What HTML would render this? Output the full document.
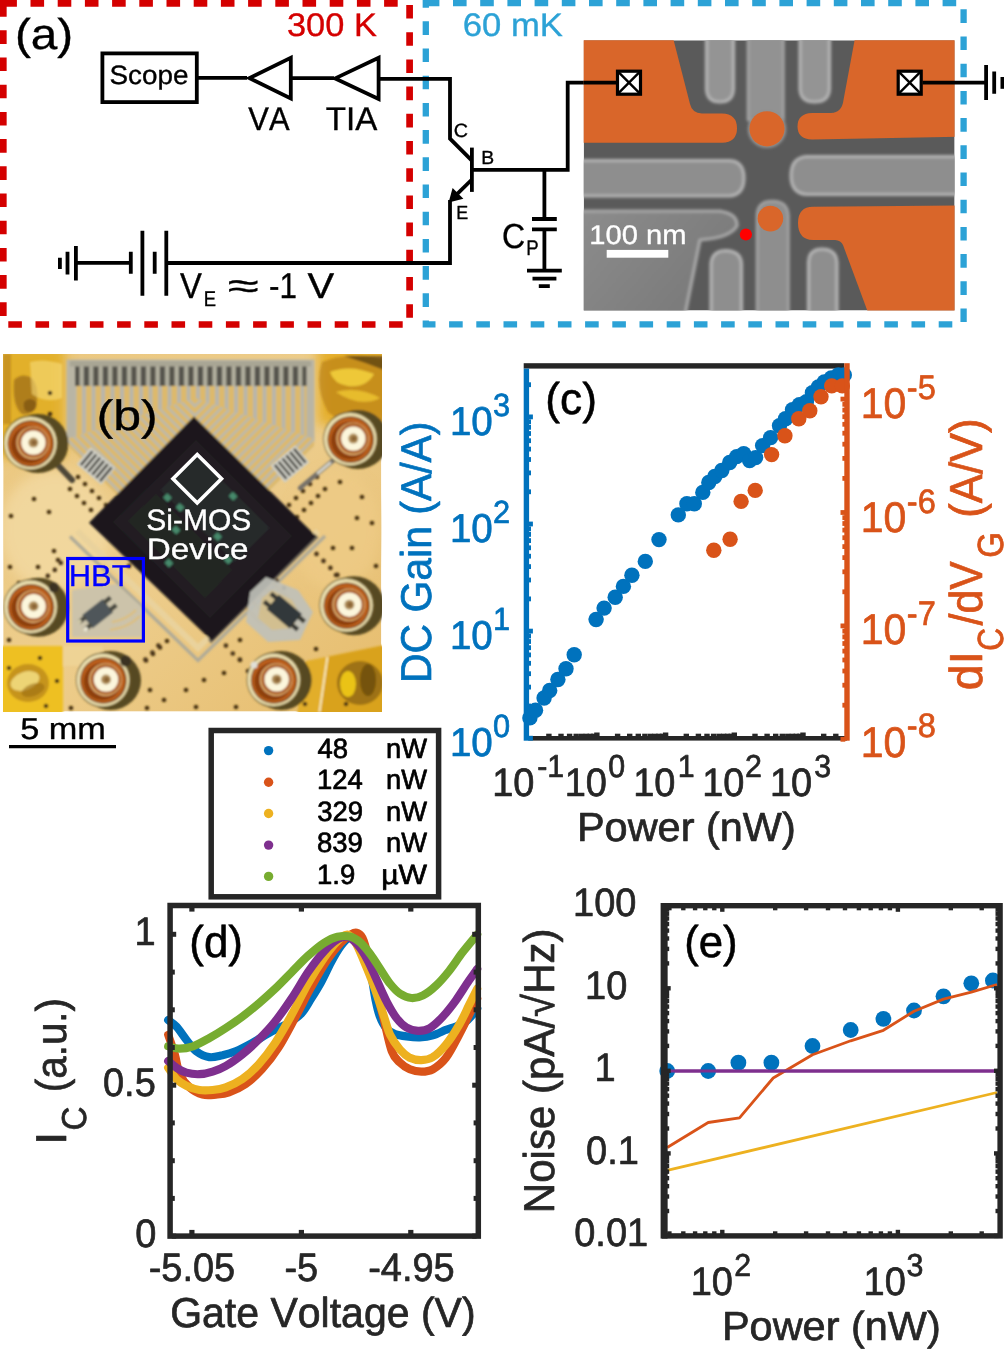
<!DOCTYPE html>
<html><head><meta charset="utf-8"><title>Figure</title>
<style>html,body{margin:0;padding:0;background:#fff}svg{display:block;will-change:transform}text{text-rendering:geometricPrecision;font-family:"Liberation Sans",sans-serif;font-kerning:none;white-space:pre}</style></head><body>
<svg width="1004" height="1349" viewBox="0 0 1004 1349">
<rect width="1004" height="1349" fill="#fff"/>
<!-- panel a -->
<path d="M3.3,3.3 H409.6 V324.5 H3.3 Z" fill="none" stroke="#D40000" stroke-width="6.7" stroke-dasharray="13.6 13.6"/>
<path d="M425.8,3.1 H963.6 V324.4 H425.8 Z" fill="none" stroke="#2CA2D6" stroke-width="6.3" stroke-dasharray="13.6 13.6"/>
<text transform="translate(14.94,49.00) scale(1.1016,1)" font-size="43.31" fill="#000"  stroke="#000" stroke-width="0.35" stroke-linejoin="round">(a)</text>
<text transform="translate(286.99,36.30) scale(1.0565,1)" font-size="32.56" fill="#D40000"  stroke="#D40000" stroke-width="0.35" stroke-linejoin="round">300 K</text>
<text transform="translate(462.84,36.30) scale(1.0643,1)" font-size="32.56" fill="#2CA2D6"  stroke="#2CA2D6" stroke-width="0.35" stroke-linejoin="round">60 mK</text>
<rect x="102.4" y="53.4" width="94.4" height="48.7" stroke="#000" stroke-width="3.8" fill="none"/>
<text transform="translate(109.53,84.20) scale(1.0533,1)" font-size="26.45" fill="#000"  stroke="#000" stroke-width="0.35" stroke-linejoin="round">Scope</text>
<path d="M197,77.9 H247 M291,78.2 H334 M379,78.8 H450 V138.7 L471.9,160.6" stroke="#000" stroke-width="3.8" fill="none"/>
<path d="M249.3,78.1 L290.8,57.8 V98.4 Z" stroke="#000" stroke-width="3.8" fill="none" stroke-linejoin="miter"/>
<path d="M335.2,78.4 L378.6,57.8 V98.9 Z" stroke="#000" stroke-width="3.8" fill="none" stroke-linejoin="miter"/>
<text transform="translate(248.36,130.30) scale(0.9424,1)" font-size="32.85" fill="#000"  stroke="#000" stroke-width="0.35" stroke-linejoin="round">VA</text>
<text transform="translate(325.76,130.30) scale(1.0079,1)" font-size="32.85" fill="#000"  stroke="#000" stroke-width="0.35" stroke-linejoin="round">TIA</text>
<path d="M471.9,147.6 V191.9" stroke="#000" stroke-width="3.8" fill="none"/>
<path d="M471.9,169.8 H567.7 V82.7 H617" stroke="#000" stroke-width="3.8" fill="none"/>
<path d="M471.9,179.5 L456,195.2" stroke="#000" stroke-width="3.8" fill="none"/>
<path d="M448.6,202.6 L452.6,188.0 L463.4,198.8 Z" fill="#000"/>
<path d="M450,200 V263 H166.3" stroke="#000" stroke-width="3.8" fill="none"/>
<text transform="translate(453.80,137.30) scale(1.0287,1)" font-size="19.19" fill="#000"  stroke="#000" stroke-width="0.35" stroke-linejoin="round">C</text>
<text transform="translate(481.31,163.60) scale(1.0242,1)" font-size="18.90" fill="#000"  stroke="#000" stroke-width="0.35" stroke-linejoin="round">B</text>
<text transform="translate(456.13,218.80) scale(0.9471,1)" font-size="18.90" fill="#000"  stroke="#000" stroke-width="0.35" stroke-linejoin="round">E</text>
<path d="M544.4,169.8 V219 M532,219 H556.8 M532,229.3 H556.8 M544.4,229.3 V270.6 M527,270.6 H561.8 M532.5,278.7 H556.4 M538.8,286.1 H549.8" stroke="#000" stroke-width="3.8" fill="none"/>
<text transform="translate(501.97,248.20) scale(0.9189,1)" font-size="34.88" fill="#000"  stroke="#000" stroke-width="0.35" stroke-linejoin="round">C</text>
<text transform="translate(526.37,254.80) scale(0.8826,1)" font-size="21.08" fill="#000"  stroke="#000" stroke-width="0.35" stroke-linejoin="round">P</text>
<path d="M59.9,257.8 V269 M67.5,251.8 V274.5 M75.9,245.9 V280.5 M75.9,262.8 H130.8 M130.8,251.8 V273.7 M142.4,230.7 V295.7 M154.7,251.8 V273.7 M166.3,230.7 V295.7" stroke="#000" stroke-width="3.8" fill="none"/>
<text transform="translate(180.06,298.40) scale(0.9141,1)" font-size="35.90" fill="#000"  stroke="#000" stroke-width="0.35" stroke-linejoin="round">V</text>
<text transform="translate(203.79,305.60) scale(0.8635,1)" font-size="21.37" fill="#000"  stroke="#000" stroke-width="0.35" stroke-linejoin="round">E</text>
<text transform="translate(227.66,298.40) scale(1.5727,1)" font-size="35.90" fill="#000"  stroke="#000" stroke-width="0.35" stroke-linejoin="round">≈</text>
<text transform="translate(269.10,298.40) scale(0.8749,1)" font-size="35.90" fill="#000"  stroke="#000" stroke-width="0.35" stroke-linejoin="round">-1</text>
<text transform="translate(307.52,298.40) scale(1.1130,1)" font-size="35.90" fill="#000"  stroke="#000" stroke-width="0.35" stroke-linejoin="round">V</text>
<!-- sem -->
<defs><clipPath id="semclip"><rect x="583.7" y="40.3" width="370.9" height="270.2"/></clipPath><filter id="b1" x="-10%" y="-10%" width="120%" height="120%"><feGaussianBlur stdDeviation="1.6"/></filter><filter id="b05" x="-10%" y="-10%" width="120%" height="120%"><feGaussianBlur stdDeviation="0.7"/></filter><filter id="b3" x="-10%" y="-10%" width="120%" height="120%"><feGaussianBlur stdDeviation="3"/></filter><linearGradient id="llg" x1="0" y1="0" x2="1" y2="0.6"><stop offset="0" stop-color="#8d8d8d"/><stop offset="1" stop-color="#787878"/></linearGradient></defs>
<g clip-path="url(#semclip)">
<rect x="583.7" y="40.3" width="370.9" height="270.2" fill="#5a5a5a"/>
<g filter="url(#b1)"><path d="M570,211 H720 Q738,214 737,226 Q730,238 700,240 L682,330 H570 Z" fill="url(#llg)" stroke="#a8a8a8" stroke-width="3.2" stroke-linejoin="round"/><path d="M570,160.5 H730 Q744,161.5 744,178 Q744,194.5 730,196 H570 Z" fill="#8e8e8e" stroke="#b4b4b4" stroke-width="3.2" stroke-linejoin="round"/><path d="M970,156.5 H806 Q791,158 791,175.5 Q791,193 806,194.5 H970 Z" fill="#8e8e8e" stroke="#b4b4b4" stroke-width="3.2" stroke-linejoin="round"/><path d="M706.5,20 V89 Q707,102 720,102 Q733,102 733.5,89 V20 Z" fill="#949494" stroke="#b4b4b4" stroke-width="3.2" stroke-linejoin="round"/><path d="M748,20 V120 H783.5 V20 Z" fill="#929292" stroke="#a6a6a6" stroke-width="2.5" stroke-linejoin="round"/><circle cx="767" cy="128.8" r="19.3" fill="#909090"/><path d="M800,20 V89 Q800.5,102 814.5,102 Q829,102 829.5,89 V20 Z" fill="#949494" stroke="#b4b4b4" stroke-width="3.2" stroke-linejoin="round"/><path d="M711,330 V264 Q712,250.5 726,250.5 Q741,251 741.5,264 V330 Z" fill="#8e8e8e" stroke="#b4b4b4" stroke-width="3.2" stroke-linejoin="round"/><path d="M757,330 V216 Q757,201 772,201 Q788,201 788.5,216 V330 Z" fill="#8e8e8e" stroke="#a6a6a6" stroke-width="2.5" stroke-linejoin="round"/><path d="M808.5,330 V262 Q809,249 822,249 Q836,249 837,262 V330 Z" fill="#8e8e8e" stroke="#b4b4b4" stroke-width="3.2" stroke-linejoin="round"/></g>
<g filter="url(#b05)"><path d="M570,30 H671 L690,104 Q692,113 702,113.5 H722 Q737,114 737,128.3 Q737,142.4 722,142.8 H570 Z" fill="#D96629"/><path d="M970,30 H856.5 L843.5,100 Q842,112.5 831,113 H812 Q797.5,113.5 797.5,126.5 Q797.5,139 812,139.5 L970,136.5 Z" fill="#D96629"/><path d="M970,205.5 L813,206.8 Q798,207 798,223 Q798,239.5 813,240 H835 Q841,240.5 843,245 L874.5,330 H970 Z" fill="#D96629"/><circle cx="767" cy="128.8" r="17.6" fill="#D96629"/><circle cx="770.4" cy="218.6" r="12.8" fill="#D96629"/></g>
<circle cx="745.9" cy="234.5" r="6.1" fill="#f00"/>
<rect x="606.7" y="249.9" width="61.6" height="7.8" fill="#fff"/>
<text transform="translate(589.28,243.90) scale(1.0772,1)" font-size="27.04" fill="#fff"  stroke="#fff" stroke-width="0.35" stroke-linejoin="round">100 nm</text>
</g>
<rect x="617.5" y="71.2" width="23.0" height="23.0" fill="#fff" stroke="#000" stroke-width="3.2"/>
<path d="M617.5,71.2 l23,23 M640.5,71.2 l-23,23" stroke="#000" stroke-width="2.4"/>
<rect x="898.2" y="71.2" width="23.0" height="23.0" fill="#fff" stroke="#000" stroke-width="3.2"/>
<path d="M898.2,71.2 l23,23 M921.2,71.2 l-23,23" stroke="#000" stroke-width="2.4"/>
<path d="M583.7,82.7 H617 M922.5,82.7 H986.1 M986.1,65 V100 M994.2,71.4 V93.8" stroke="#000" stroke-width="3.8" fill="none"/>
<path d="M1002.5,77 V88.8" stroke="#000" stroke-width="4" fill="none"/>
<!-- photo b -->
<defs><clipPath id="phclip"><rect x="3.2" y="354.0" width="378.1" height="357.6"/></clipPath><clipPath id="fanL"><path d="M67,439 L195,398 V419 L118,496 L67,445 Z"/></clipPath><clipPath id="fanR"><path d="M314,439 L195,398 V419 L268,492 L314,446 Z"/></clipPath><filter id="pb" x="-5%" y="-5%" width="110%" height="110%"><feGaussianBlur stdDeviation="0.9"/></filter><filter id="pb6" x="-20%" y="-20%" width="140%" height="140%"><feGaussianBlur stdDeviation="6"/></filter><pattern id="stripes" x="72.6" y="0" width="9.5" height="10" patternUnits="userSpaceOnUse"><rect width="9.5" height="10" fill="#DDB96C"/><rect x="0" width="3.8" height="10" fill="#B7B6AC"/></pattern><pattern id="dstr" x="0" y="0" width="6.7" height="10" patternUnits="userSpaceOnUse"><rect width="6.7" height="10" fill="#DDB96C"/><rect x="0" width="2.9" height="10" fill="#BDB9A8"/></pattern><pattern id="pads" x="72.6" y="0" width="9.5" height="10" patternUnits="userSpaceOnUse"><rect width="9.5" height="10" fill="#B4B1A0"/><rect x="1.6" width="5.4" height="10" fill="#54534c"/></pattern><linearGradient id="bgg" x1="0" y1="0" x2="1" y2="1"><stop offset="0" stop-color="#EBC77E"/><stop offset="0.5" stop-color="#EDCD8C"/><stop offset="1" stop-color="#E6BC6C"/></linearGradient></defs>
<g clip-path="url(#phclip)">
<rect x="3.2" y="354.0" width="378.1" height="357.6" fill="url(#bgg)"/>
<g filter="url(#pb6)"><ellipse cx="55" cy="530" rx="55" ry="60" fill="#F3DAA2" opacity="0.8"/><ellipse cx="335" cy="530" rx="45" ry="60" fill="#EDCA86" opacity="0.8"/><rect x="-5" y="345" width="70" height="112" fill="#E2B02A"/><rect x="318" y="345" width="80" height="80" fill="#E4AE2A"/></g>
<g filter="url(#pb)"><rect x="0" y="646" width="63" height="70" fill="#EEC024"/><path d="M63,646 h40 v20 h-40z" fill="#EFD9A0" opacity="0.5"/><path d="M306,661 L390,644 V720 H296 Z" fill="#E2AE2A"/><path d="M327,657 L390,644 V720 H319 Z" fill="#D9A21A"/><path d="M14,380 q8,-8 18,-2 q8,10 4,28 q-4,10 -14,8 q-10,-8 -8,-34z" fill="#8E5E18" opacity="0.6"/><path d="M30,362 q14,-4 32,2 v34 q-16,6 -30,-4z" fill="#F6DC7A" opacity="0.6"/><path d="M3,354 h8 v70 h-8z" fill="#A87414" opacity="0.45"/><path d="M24,402 q6,-6 12,0 q2,8 -6,10 q-8,0 -6,-10z" fill="#6a4412" opacity="0.55"/><path d="M322,362 q30,-12 62,-2 v60 q-30,14 -56,-8 q-14,-26 -6,-50z" fill="#B47A18" opacity="0.6"/><path d="M330,372 q20,-8 44,2 q-8,14 -26,12 q-14,-2 -18,-14z" fill="#F5D23C" opacity="0.85"/><path d="M344,356 h40 v14 q-20,-8 -40,-14z" fill="#3a2a10" opacity="0.6"/><path d="M336,392 q22,-6 44,6 q-20,10 -44,-6z" fill="#F0C832" opacity="0.8"/><ellipse cx="28" cy="683" rx="21" ry="19" fill="#B8861C" opacity="0.75"/><ellipse cx="25" cy="681" rx="15" ry="9" fill="#F6E48A" opacity="0.8" transform="rotate(-20 25 681)"/><ellipse cx="33" cy="690" rx="12" ry="6" fill="#9a6c14" opacity="0.6" transform="rotate(-20 33 690)"/><ellipse cx="360" cy="683" rx="23" ry="22" fill="#8a6210" opacity="0.75"/><ellipse cx="348" cy="684" rx="8" ry="13" fill="#F2CC14" opacity="0.9"/><ellipse cx="368" cy="680" rx="8" ry="16" fill="#5a3e0c" opacity="0.6"/><path d="M327.5,657 L319.5,712" stroke="#F8E8B8" stroke-width="2"/><path d="M66.5,359.5 H314.5 V442 L262,495 L195,419 L124,495 L66.5,445 Z" fill="#B9B5A4"/><path d="M75,385 H306.5 V440 L195,401 L75,440 Z" fill="url(#stripes)"/><g clip-path="url(#fanL)"><rect x="-200" y="-200" width="900" height="900" fill="url(#dstr)" transform="rotate(-45 118 496)"/></g><g clip-path="url(#fanR)"><rect x="-200" y="-200" width="900" height="900" fill="url(#dstr)" transform="rotate(45 268 492)"/></g><rect x="75" y="366" width="231.5" height="20" fill="url(#pads)"/><rect x="70" y="361" width="241" height="5.5" fill="#A9A694"/><path d="M70,536.5 L198,660.5 L325,536" fill="none" stroke="#AFAA98" stroke-width="3.2"/><path d="M77,531 L198,648 L318,531" fill="none" stroke="#E9D29C" stroke-width="6"/><path d="M236.0,598.0 l26,26" stroke="#CDA555" stroke-width="2"/><path d="M242.5,591.5 l26,26" stroke="#CDA555" stroke-width="2"/><path d="M249.0,585.0 l26,26" stroke="#CDA555" stroke-width="2"/><path d="M255.5,578.5 l26,26" stroke="#CDA555" stroke-width="2"/><path d="M262.0,572.0 l26,26" stroke="#CDA555" stroke-width="2"/><circle cx="70.0" cy="489.0" r="2.3" fill="#4a3414"/><circle cx="78.0" cy="477.0" r="2.3" fill="#4a3414"/><circle cx="325.0" cy="489.0" r="2.3" fill="#4a3414"/><circle cx="317.0" cy="477.0" r="2.3" fill="#4a3414"/><circle cx="77.0" cy="496.0" r="2.3" fill="#4a3414"/><circle cx="85.0" cy="484.0" r="2.3" fill="#4a3414"/><circle cx="318.0" cy="496.0" r="2.3" fill="#4a3414"/><circle cx="310.0" cy="484.0" r="2.3" fill="#4a3414"/><circle cx="84.0" cy="503.0" r="2.3" fill="#4a3414"/><circle cx="92.0" cy="491.0" r="2.3" fill="#4a3414"/><circle cx="311.0" cy="503.0" r="2.3" fill="#4a3414"/><circle cx="303.0" cy="491.0" r="2.3" fill="#4a3414"/><circle cx="91.0" cy="510.0" r="2.3" fill="#4a3414"/><circle cx="99.0" cy="498.0" r="2.3" fill="#4a3414"/><circle cx="304.0" cy="510.0" r="2.3" fill="#4a3414"/><circle cx="296.0" cy="498.0" r="2.3" fill="#4a3414"/><circle cx="98.0" cy="517.0" r="2.3" fill="#4a3414"/><circle cx="106.0" cy="505.0" r="2.3" fill="#4a3414"/><circle cx="297.0" cy="517.0" r="2.3" fill="#4a3414"/><circle cx="289.0" cy="505.0" r="2.3" fill="#4a3414"/><circle cx="105.0" cy="524.0" r="2.3" fill="#4a3414"/><circle cx="113.0" cy="512.0" r="2.3" fill="#4a3414"/><circle cx="290.0" cy="524.0" r="2.3" fill="#4a3414"/><circle cx="282.0" cy="512.0" r="2.3" fill="#4a3414"/><circle cx="112.0" cy="531.0" r="2.3" fill="#4a3414"/><circle cx="120.0" cy="519.0" r="2.3" fill="#4a3414"/><circle cx="283.0" cy="531.0" r="2.3" fill="#4a3414"/><circle cx="275.0" cy="519.0" r="2.3" fill="#4a3414"/><circle cx="262.0" cy="566.0" r="2.3" fill="#4a3414"/><circle cx="151.0" cy="544.0" r="2.3" fill="#4a3414"/><circle cx="167.0" cy="641.0" r="2.3" fill="#4a3414"/><circle cx="269.3" cy="573.3" r="2.3" fill="#4a3414"/><circle cx="143.7" cy="551.3" r="2.3" fill="#4a3414"/><circle cx="160.0" cy="647.5" r="2.3" fill="#4a3414"/><circle cx="276.6" cy="580.6" r="2.3" fill="#4a3414"/><circle cx="136.4" cy="558.6" r="2.3" fill="#4a3414"/><circle cx="153.0" cy="654.0" r="2.3" fill="#4a3414"/><circle cx="283.9" cy="587.9" r="2.3" fill="#4a3414"/><circle cx="129.1" cy="565.9" r="2.3" fill="#4a3414"/><circle cx="146.0" cy="660.5" r="2.3" fill="#4a3414"/><circle cx="34.0" cy="499.0" r="2.3" fill="#4a3414"/><circle cx="49.0" cy="512.0" r="2.3" fill="#4a3414"/><circle cx="11.0" cy="516.0" r="2.3" fill="#4a3414"/><circle cx="54.0" cy="551.0" r="2.3" fill="#4a3414"/><circle cx="38.0" cy="567.0" r="2.3" fill="#4a3414"/><circle cx="10.0" cy="567.0" r="2.3" fill="#4a3414"/><circle cx="38.0" cy="591.0" r="2.3" fill="#4a3414"/><circle cx="9.0" cy="640.0" r="2.3" fill="#4a3414"/><circle cx="58.0" cy="560.0" r="2.3" fill="#4a3414"/><circle cx="48.0" cy="612.0" r="2.3" fill="#4a3414"/><circle cx="40.0" cy="658.0" r="2.3" fill="#4a3414"/><circle cx="57.0" cy="681.0" r="2.3" fill="#4a3414"/><circle cx="9.0" cy="668.0" r="2.3" fill="#4a3414"/><circle cx="46.0" cy="706.0" r="2.3" fill="#4a3414"/><circle cx="71.0" cy="708.0" r="2.3" fill="#4a3414"/><circle cx="340.0" cy="482.0" r="2.3" fill="#4a3414"/><circle cx="362.0" cy="497.0" r="2.3" fill="#4a3414"/><circle cx="372.0" cy="523.0" r="2.3" fill="#4a3414"/><circle cx="357.0" cy="518.0" r="2.3" fill="#4a3414"/><circle cx="333.0" cy="548.0" r="2.3" fill="#4a3414"/><circle cx="352.0" cy="548.0" r="2.3" fill="#4a3414"/><circle cx="376.0" cy="566.0" r="2.3" fill="#4a3414"/><circle cx="336.0" cy="575.0" r="2.3" fill="#4a3414"/><circle cx="372.0" cy="596.0" r="2.3" fill="#4a3414"/><circle cx="240.0" cy="660.0" r="2.3" fill="#4a3414"/><circle cx="204.0" cy="680.0" r="2.3" fill="#4a3414"/><circle cx="224.0" cy="673.0" r="2.3" fill="#4a3414"/><circle cx="196.0" cy="707.0" r="2.3" fill="#4a3414"/><circle cx="164.0" cy="700.0" r="2.3" fill="#4a3414"/><circle cx="147.0" cy="708.0" r="2.3" fill="#4a3414"/><circle cx="236.0" cy="707.0" r="2.3" fill="#4a3414"/><circle cx="316.0" cy="649.0" r="2.3" fill="#4a3414"/><circle cx="305.0" cy="704.0" r="2.3" fill="#4a3414"/><circle cx="346.0" cy="704.0" r="2.3" fill="#4a3414"/><circle cx="186.0" cy="690.0" r="2.3" fill="#4a3414"/><circle cx="150.0" cy="690.0" r="2.3" fill="#4a3414"/><circle cx="240.0" cy="640.0" r="2.3" fill="#4a3414"/><circle cx="50.0" cy="393.0" r="2.3" fill="#4a3414"/><circle cx="50.0" cy="414.0" r="2.3" fill="#4a3414"/><circle cx="248.0" cy="671.0" r="2.3" fill="#4a3414"/><circle cx="19.0" cy="583.0" r="2.3" fill="#4a3414"/><circle cx="13.0" cy="594.0" r="2.3" fill="#4a3414"/><circle cx="225.9" cy="645.6" r="2.3" fill="#4a3414"/><circle cx="232.8" cy="653.5" r="2.3" fill="#4a3414"/><circle cx="239.8" cy="659.5" r="2.3" fill="#4a3414"/><circle cx="316.5" cy="553.9" r="2.3" fill="#4a3414"/><circle cx="323.5" cy="560.9" r="2.3" fill="#4a3414"/><circle cx="330.4" cy="567.9" r="2.3" fill="#4a3414"/><circle cx="337.4" cy="574.9" r="2.3" fill="#4a3414"/><circle cx="47.8" cy="575.9" r="2.3" fill="#4a3414"/><circle cx="54.8" cy="569.9" r="2.3" fill="#4a3414"/><circle cx="60.8" cy="562.9" r="2.3" fill="#4a3414"/><circle cx="145.4" cy="659.5" r="2.3" fill="#4a3414"/><circle cx="152.4" cy="652.5" r="2.3" fill="#4a3414"/><circle cx="158.4" cy="645.6" r="2.3" fill="#4a3414"/><path d="M211,643.5 L318.5,537.5 L315.2,534 L208,640 Z" fill="#7a7264"/><path d="M193.9,416.5 L316.5,536.6 L212,641 L89,522.7 Z" fill="#1b191a"/><path d="M196,440 L292,536 L210,618 L113,522 Z" fill="#201f21"/><path d="M160,490 L196,455 L270,528 L235,562 Z" fill="#272a2c" opacity="0.9"/><path d="M128,521 L156,494 L232,570 L205,598 Z" fill="#232725" opacity="0.9"/><rect x="164.20000000000002" y="494.6" width="6.5" height="6" fill="#478a6c" transform="rotate(45 167.4 497.6)"/><rect x="176.8" y="504.4" width="6.5" height="6" fill="#478a6c" transform="rotate(45 180 507.4)"/><rect x="229.8" y="493.2" width="6.5" height="6" fill="#478a6c" transform="rotate(45 233 496.2)"/><rect x="165.60000000000002" y="560" width="6.5" height="6" fill="#478a6c" transform="rotate(45 168.8 563)"/><rect x="214.4" y="533.6" width="6.5" height="6" fill="#478a6c" transform="rotate(45 217.6 536.6)"/><rect x="172.8" y="527" width="6.5" height="6" fill="#478a6c" transform="rotate(45 176 530)"/><rect x="224.8" y="557" width="6.5" height="6" fill="#478a6c" transform="rotate(45 228 560)"/><g transform="rotate(40 96 466)"><rect x="80" y="455" width="32" height="22" fill="#cfcfc6"/><rect x="82.5" y="457" width="2.6" height="18" fill="#4c4b45"/><rect x="87.5" y="457" width="2.6" height="18" fill="#4c4b45"/><rect x="92.5" y="457" width="2.6" height="18" fill="#4c4b45"/><rect x="97.5" y="457" width="2.6" height="18" fill="#4c4b45"/><rect x="102.5" y="457" width="2.6" height="18" fill="#4c4b45"/><rect x="107.5" y="457" width="2.6" height="18" fill="#4c4b45"/></g><g transform="rotate(-40 290 464)"><rect x="274" y="453" width="32" height="22" fill="#cfcfc6"/><rect x="276.5" y="455" width="2.6" height="18" fill="#4c4b45"/><rect x="281.5" y="455" width="2.6" height="18" fill="#4c4b45"/><rect x="286.5" y="455" width="2.6" height="18" fill="#4c4b45"/><rect x="291.5" y="455" width="2.6" height="18" fill="#4c4b45"/><rect x="296.5" y="455" width="2.6" height="18" fill="#4c4b45"/><rect x="301.5" y="455" width="2.6" height="18" fill="#4c4b45"/></g><path d="M55,462 L72,480" stroke="#4e4638" stroke-width="6" stroke-linecap="round"/><path d="M336,458 L300,488" stroke="#77726a" stroke-width="4.5" stroke-linecap="round"/><path d="M330,463 L318,473" stroke="#d8d8d0" stroke-width="2.5" stroke-linecap="round"/><path d="M72,590 L116,584 L142,607 L142,637 L72,637 Z" fill="#C9C2AC" opacity="0.92"/><path d="M112,622 q14,-2 24,-12 M110,630 q18,-2 30,-14" stroke="#DDBE7A" stroke-width="2" fill="none"/><g transform="rotate(-38 98 614)"><rect x="85" y="605" width="26" height="17" fill="#50565a"/><rect x="78" y="606.5" width="8" height="4.5" fill="#4a4a40"/><rect x="78" y="616" width="8" height="4.5" fill="#4a4a40"/><rect x="110" y="606.5" width="8" height="4.5" fill="#4a4a40"/><rect x="110" y="616" width="8" height="4.5" fill="#4a4a40"/><circle cx="79" cy="618.5" r="2.3" fill="#e8e4d0"/><circle cx="79" cy="608.5" r="2" fill="#cfc9a8"/></g><path d="M250,592 L266,577 L298,590 L313,612 L300,640 L268,642 L246,622 Z" fill="#BFC0B8" opacity="0.92"/><path d="M262,598 L272,590 L292,600 L300,614 L292,628 L272,630 L258,618 Z" fill="#D9BE80" opacity="0.7"/><g transform="rotate(40 284 612)"><rect x="269" y="602" width="30" height="19" fill="#33373a"/><rect x="262" y="604" width="8" height="4.5" fill="#3a3a34"/><rect x="262" y="614.5" width="8" height="4.5" fill="#3a3a34"/><rect x="298" y="604" width="8" height="4.5" fill="#3a3a34"/><rect x="298" y="614.5" width="8" height="4.5" fill="#3a3a34"/></g><ellipse cx="37.9" cy="443.6" rx="30.5" ry="29.5" fill="#574820"/><circle cx="30.9" cy="443.1" r="27.6" fill="#6a5a2c"/><circle cx="30.4" cy="443.1" r="26.2" fill="#ECE0B0"/><circle cx="30.799999999999997" cy="443.6" r="23.3" fill="#7a4a18"/><circle cx="30.599999999999998" cy="443.6" r="22" fill="#BC5F1C"/><circle cx="29.799999999999997" cy="444.6" r="18.8" fill="#8E3F0C"/><circle cx="32.8" cy="442.8" r="16.4" fill="#DCAE70"/><circle cx="33.199999999999996" cy="442.6" r="15" fill="#A85820"/><circle cx="33.4" cy="442.6" r="12.2" fill="#FCF6DC"/><circle cx="33.4" cy="442.6" r="5.0" fill="#B08E58"/><circle cx="33.9" cy="442.6" r="2.6" fill="#8a6436"/><ellipse cx="357.8" cy="439.6" rx="30.5" ry="29.5" fill="#574820"/><circle cx="350.8" cy="439.1" r="27.6" fill="#6a5a2c"/><circle cx="350.3" cy="439.1" r="26.2" fill="#ECE0B0"/><circle cx="350.7" cy="439.6" r="23.3" fill="#7a4a18"/><circle cx="350.5" cy="439.6" r="22" fill="#BC5F1C"/><circle cx="349.7" cy="440.6" r="18.8" fill="#8E3F0C"/><circle cx="352.7" cy="438.8" r="16.4" fill="#DCAE70"/><circle cx="353.1" cy="438.6" r="15" fill="#A85820"/><circle cx="353.3" cy="438.6" r="12.2" fill="#FCF6DC"/><circle cx="353.3" cy="438.6" r="5.0" fill="#B08E58"/><circle cx="353.8" cy="438.6" r="2.6" fill="#8a6436"/><ellipse cx="38.1" cy="607.3" rx="30.5" ry="29.5" fill="#574820"/><circle cx="31.1" cy="606.8" r="27.6" fill="#6a5a2c"/><circle cx="30.6" cy="606.8" r="26.2" fill="#ECE0B0"/><circle cx="31.0" cy="607.3" r="23.3" fill="#7a4a18"/><circle cx="30.8" cy="607.3" r="22" fill="#BC5F1C"/><circle cx="30.0" cy="608.3" r="18.8" fill="#8E3F0C"/><circle cx="33.0" cy="606.5" r="16.4" fill="#DCAE70"/><circle cx="33.4" cy="606.3" r="15" fill="#A85820"/><circle cx="33.6" cy="606.3" r="12.2" fill="#FCF6DC"/><circle cx="33.6" cy="606.3" r="5.0" fill="#B08E58"/><circle cx="34.1" cy="606.3" r="2.6" fill="#8a6436"/><ellipse cx="353.9" cy="605.7" rx="30.5" ry="29.5" fill="#574820"/><circle cx="346.9" cy="605.2" r="27.6" fill="#6a5a2c"/><circle cx="346.4" cy="605.2" r="26.2" fill="#ECE0B0"/><circle cx="346.79999999999995" cy="605.7" r="23.3" fill="#7a4a18"/><circle cx="346.59999999999997" cy="605.7" r="22" fill="#BC5F1C"/><circle cx="345.79999999999995" cy="606.7" r="18.8" fill="#8E3F0C"/><circle cx="348.79999999999995" cy="604.9000000000001" r="16.4" fill="#DCAE70"/><circle cx="349.2" cy="604.7" r="15" fill="#A85820"/><circle cx="349.4" cy="604.7" r="12.2" fill="#FCF6DC"/><circle cx="349.4" cy="604.7" r="5.0" fill="#B08E58"/><circle cx="349.9" cy="604.7" r="2.6" fill="#8a6436"/><ellipse cx="110.5" cy="680.5" rx="30.5" ry="29.5" fill="#574820"/><circle cx="103.5" cy="680.0" r="27.6" fill="#6a5a2c"/><circle cx="103" cy="680.0" r="26.2" fill="#ECE0B0"/><circle cx="103.4" cy="680.5" r="23.3" fill="#7a4a18"/><circle cx="103.2" cy="680.5" r="22" fill="#BC5F1C"/><circle cx="102.4" cy="681.5" r="18.8" fill="#8E3F0C"/><circle cx="105.4" cy="679.7" r="16.4" fill="#DCAE70"/><circle cx="105.8" cy="679.5" r="15" fill="#A85820"/><circle cx="106" cy="679.5" r="12.2" fill="#FCF6DC"/><circle cx="106" cy="679.5" r="5.0" fill="#B08E58"/><circle cx="106.5" cy="679.5" r="2.6" fill="#8a6436"/><ellipse cx="281.2" cy="680.4" rx="30.5" ry="29.5" fill="#574820"/><circle cx="274.2" cy="679.9" r="27.6" fill="#6a5a2c"/><circle cx="273.7" cy="679.9" r="26.2" fill="#ECE0B0"/><circle cx="274.09999999999997" cy="680.4" r="23.3" fill="#7a4a18"/><circle cx="273.9" cy="680.4" r="22" fill="#BC5F1C"/><circle cx="273.09999999999997" cy="681.4" r="18.8" fill="#8E3F0C"/><circle cx="276.09999999999997" cy="679.6" r="16.4" fill="#DCAE70"/><circle cx="276.5" cy="679.4" r="15" fill="#A85820"/><circle cx="276.7" cy="679.4" r="12.2" fill="#FCF6DC"/><circle cx="276.7" cy="679.4" r="5.0" fill="#B08E58"/><circle cx="277.2" cy="679.4" r="2.6" fill="#8a6436"/><circle cx="53.8" cy="587.6" r="5" fill="#3a3222"/><circle cx="125.5" cy="661" r="5.5" fill="#3a3222"/><circle cx="254" cy="665" r="3.5" fill="#e0e0d8"/></g>
</g>
<rect x="67.7" y="558.5" width="75.7" height="82.5" fill="none" stroke="#0000ff" stroke-width="3.2"/>
<text transform="translate(68.76,586.20) scale(1.0278,1)" font-size="30.09" fill="#0000ff"  stroke="#0000ff" stroke-width="0.35" stroke-linejoin="round">HBT</text>
<path d="M197.2,454.5 L221.5,478.8 L197.2,503 L173,478.8 Z" fill="none" stroke="#fff" stroke-width="3.7"/>
<text transform="translate(146.24,530.40) scale(1.0232,1)" font-size="29.36" fill="#fff"  stroke="#fff" stroke-width="0.35" stroke-linejoin="round">Si-MOS</text>
<text transform="translate(146.87,559.10) scale(1.1321,1)" font-size="29.36" fill="#fff"  stroke="#fff" stroke-width="0.35" stroke-linejoin="round">Device</text>
<text transform="translate(96.49,429.60) scale(1.1801,1)" font-size="42.44" fill="#000"  stroke="#000" stroke-width="0.35" stroke-linejoin="round">(b)</text>
<text transform="translate(20.13,738.60) scale(1.1398,1)" font-size="30.09" fill="#000"  stroke="#000" stroke-width="0.35" stroke-linejoin="round">5 mm</text>
<path d="M9,746.6 H116" stroke="#000" stroke-width="3.2"/>
<!-- chart c -->
<rect x="546.2" y="733.7" width="5.4" height="3.2" fill="#262626"/><rect x="558.3" y="733.7" width="5.4" height="3.2" fill="#262626"/><rect x="566.9" y="733.7" width="5.4" height="3.2" fill="#262626"/><rect x="573.5" y="733.7" width="5.4" height="3.2" fill="#262626"/><rect x="579.0" y="733.7" width="5.4" height="3.2" fill="#262626"/><rect x="583.6" y="733.7" width="5.4" height="3.2" fill="#262626"/><rect x="587.5" y="733.7" width="5.4" height="3.2" fill="#262626"/><rect x="591.1" y="733.7" width="5.4" height="3.2" fill="#262626"/><rect x="594.2" y="732.5" width="5.4" height="4.4" fill="#262626"/><rect x="614.9" y="733.7" width="5.4" height="3.2" fill="#262626"/><rect x="627.0" y="733.7" width="5.4" height="3.2" fill="#262626"/><rect x="635.6" y="733.7" width="5.4" height="3.2" fill="#262626"/><rect x="642.2" y="733.7" width="5.4" height="3.2" fill="#262626"/><rect x="647.7" y="733.7" width="5.4" height="3.2" fill="#262626"/><rect x="652.3" y="733.7" width="5.4" height="3.2" fill="#262626"/><rect x="656.2" y="733.7" width="5.4" height="3.2" fill="#262626"/><rect x="659.8" y="733.7" width="5.4" height="3.2" fill="#262626"/><rect x="662.9" y="732.5" width="5.4" height="4.4" fill="#262626"/><rect x="683.6" y="733.7" width="5.4" height="3.2" fill="#262626"/><rect x="695.7" y="733.7" width="5.4" height="3.2" fill="#262626"/><rect x="704.3" y="733.7" width="5.4" height="3.2" fill="#262626"/><rect x="710.9" y="733.7" width="5.4" height="3.2" fill="#262626"/><rect x="716.4" y="733.7" width="5.4" height="3.2" fill="#262626"/><rect x="721.0" y="733.7" width="5.4" height="3.2" fill="#262626"/><rect x="724.9" y="733.7" width="5.4" height="3.2" fill="#262626"/><rect x="728.5" y="733.7" width="5.4" height="3.2" fill="#262626"/><rect x="731.6" y="732.5" width="5.4" height="4.4" fill="#262626"/><rect x="752.3" y="733.7" width="5.4" height="3.2" fill="#262626"/><rect x="764.4" y="733.7" width="5.4" height="3.2" fill="#262626"/><rect x="773.0" y="733.7" width="5.4" height="3.2" fill="#262626"/><rect x="779.6" y="733.7" width="5.4" height="3.2" fill="#262626"/><rect x="785.1" y="733.7" width="5.4" height="3.2" fill="#262626"/><rect x="789.7" y="733.7" width="5.4" height="3.2" fill="#262626"/><rect x="793.6" y="733.7" width="5.4" height="3.2" fill="#262626"/><rect x="797.2" y="733.7" width="5.4" height="3.2" fill="#262626"/><rect x="800.3" y="732.5" width="5.4" height="4.4" fill="#262626"/><rect x="821.0" y="733.7" width="5.4" height="3.2" fill="#262626"/><rect x="833.1" y="733.7" width="5.4" height="3.2" fill="#262626"/>
<rect x="523.7" y="363.2" width="320.6" height="5.4" fill="#262626"/>
<rect x="529.1" y="736.0" width="317.9" height="4.6000000000000005" fill="#262626"/>
<rect x="528.1" y="735.8" width="4.8" height="4.8" fill="#0072BD"/><rect x="528.1" y="703.6" width="2.9" height="4.8" fill="#0072BD"/><rect x="528.1" y="684.7" width="2.9" height="4.8" fill="#0072BD"/><rect x="528.1" y="671.3" width="2.9" height="4.8" fill="#0072BD"/><rect x="528.1" y="660.9" width="2.9" height="4.8" fill="#0072BD"/><rect x="528.1" y="652.5" width="2.9" height="4.8" fill="#0072BD"/><rect x="528.1" y="645.3" width="2.9" height="4.8" fill="#0072BD"/><rect x="528.1" y="639.1" width="2.9" height="4.8" fill="#0072BD"/><rect x="528.1" y="633.6" width="2.9" height="4.8" fill="#0072BD"/><rect x="528.1" y="628.7" width="4.8" height="4.8" fill="#0072BD"/><rect x="528.1" y="596.5" width="2.9" height="4.8" fill="#0072BD"/><rect x="528.1" y="577.6" width="2.9" height="4.8" fill="#0072BD"/><rect x="528.1" y="564.2" width="2.9" height="4.8" fill="#0072BD"/><rect x="528.1" y="553.8" width="2.9" height="4.8" fill="#0072BD"/><rect x="528.1" y="545.4" width="2.9" height="4.8" fill="#0072BD"/><rect x="528.1" y="538.2" width="2.9" height="4.8" fill="#0072BD"/><rect x="528.1" y="532.0" width="2.9" height="4.8" fill="#0072BD"/><rect x="528.1" y="526.5" width="2.9" height="4.8" fill="#0072BD"/><rect x="528.1" y="521.6" width="4.8" height="4.8" fill="#0072BD"/><rect x="528.1" y="489.4" width="2.9" height="4.8" fill="#0072BD"/><rect x="528.1" y="470.5" width="2.9" height="4.8" fill="#0072BD"/><rect x="528.1" y="457.1" width="2.9" height="4.8" fill="#0072BD"/><rect x="528.1" y="446.7" width="2.9" height="4.8" fill="#0072BD"/><rect x="528.1" y="438.3" width="2.9" height="4.8" fill="#0072BD"/><rect x="528.1" y="431.1" width="2.9" height="4.8" fill="#0072BD"/><rect x="528.1" y="424.9" width="2.9" height="4.8" fill="#0072BD"/><rect x="528.1" y="419.4" width="2.9" height="4.8" fill="#0072BD"/><rect x="528.1" y="414.5" width="4.8" height="4.8" fill="#0072BD"/><rect x="528.1" y="382.3" width="2.9" height="4.8" fill="#0072BD"/>
<rect x="523.7" y="368.6" width="5.4" height="372.1" fill="#0072BD"/>
<g fill="#0072BD"><circle cx="529.9" cy="717.9" r="7.7"/><circle cx="535.5" cy="710.3" r="7.7"/><circle cx="544.1" cy="698" r="7.7"/><circle cx="549.7" cy="690.5" r="7.7"/><circle cx="557.9" cy="679.5" r="7.7"/><circle cx="566" cy="668.7" r="7.7"/><circle cx="574.2" cy="654.7" r="7.7"/><circle cx="596.1" cy="619.5" r="7.7"/><circle cx="604.1" cy="608.1" r="7.7"/><circle cx="615.2" cy="597.2" r="7.7"/><circle cx="623.4" cy="586.4" r="7.7"/><circle cx="631.9" cy="575.2" r="7.7"/><circle cx="645.3" cy="561.4" r="7.7"/><circle cx="659" cy="539.6" r="7.7"/><circle cx="678.3" cy="514.9" r="7.7"/><circle cx="686.9" cy="503.8" r="7.7"/><circle cx="694.3" cy="503.8" r="7.7"/><circle cx="702.8" cy="492.4" r="7.7"/><circle cx="708.8" cy="482.5" r="7.7"/><circle cx="714.8" cy="476.5" r="7.7"/><circle cx="721.8" cy="470.5" r="7.7"/><circle cx="729.7" cy="462.5" r="7.7"/><circle cx="736.7" cy="456.6" r="7.7"/><circle cx="743.7" cy="453.6" r="7.7"/><circle cx="749.6" cy="460.6" r="7.7"/><circle cx="755.6" cy="457.6" r="7.7"/><circle cx="762.6" cy="445.6" r="7.7"/><circle cx="770.6" cy="437.6" r="7.7"/><circle cx="779.5" cy="425.7" r="7.7"/><circle cx="785.5" cy="418.7" r="7.7"/><circle cx="792.5" cy="409.8" r="7.7"/><circle cx="799.4" cy="404.8" r="7.7"/><circle cx="806.4" cy="401.8" r="7.7"/><circle cx="812.4" cy="392.8" r="7.7"/><circle cx="818.4" cy="386.9" r="7.7"/><circle cx="824.3" cy="381.9" r="7.7"/><circle cx="831.3" cy="377.9" r="7.7"/><circle cx="838.3" cy="374.9" r="7.7"/><circle cx="844.3" cy="374.9" r="7.7"/></g>
<g fill="#D95319"><circle cx="713.8" cy="550.2" r="7.7"/><circle cx="730.1" cy="539.2" r="7.7"/><circle cx="741.1" cy="501.4" r="7.7"/><circle cx="755.2" cy="490.4" r="7.7"/><circle cx="771.6" cy="454.6" r="7.7"/><circle cx="784.9" cy="435.7" r="7.7"/><circle cx="798.8" cy="418.7" r="7.7"/><circle cx="809.8" cy="410.8" r="7.7"/><circle cx="821" cy="396.8" r="7.7"/><circle cx="831.7" cy="385.9" r="7.7"/><circle cx="842.3" cy="385.9" r="7.7"/></g>
<rect x="840.5" y="736.9" width="4.8" height="4.8" fill="#D95319"/><rect x="842.4" y="702.8" width="2.9" height="4.8" fill="#D95319"/><rect x="842.4" y="682.8" width="2.9" height="4.8" fill="#D95319"/><rect x="842.4" y="668.6" width="2.9" height="4.8" fill="#D95319"/><rect x="842.4" y="657.6" width="2.9" height="4.8" fill="#D95319"/><rect x="842.4" y="648.7" width="2.9" height="4.8" fill="#D95319"/><rect x="842.4" y="641.1" width="2.9" height="4.8" fill="#D95319"/><rect x="842.4" y="634.5" width="2.9" height="4.8" fill="#D95319"/><rect x="842.4" y="628.7" width="2.9" height="4.8" fill="#D95319"/><rect x="840.5" y="623.5" width="4.8" height="4.8" fill="#D95319"/><rect x="842.4" y="589.4" width="2.9" height="4.8" fill="#D95319"/><rect x="842.4" y="569.4" width="2.9" height="4.8" fill="#D95319"/><rect x="842.4" y="555.2" width="2.9" height="4.8" fill="#D95319"/><rect x="842.4" y="544.2" width="2.9" height="4.8" fill="#D95319"/><rect x="842.4" y="535.3" width="2.9" height="4.8" fill="#D95319"/><rect x="842.4" y="527.7" width="2.9" height="4.8" fill="#D95319"/><rect x="842.4" y="521.1" width="2.9" height="4.8" fill="#D95319"/><rect x="842.4" y="515.3" width="2.9" height="4.8" fill="#D95319"/><rect x="840.5" y="510.1" width="4.8" height="4.8" fill="#D95319"/><rect x="842.4" y="476.0" width="2.9" height="4.8" fill="#D95319"/><rect x="842.4" y="456.0" width="2.9" height="4.8" fill="#D95319"/><rect x="842.4" y="441.8" width="2.9" height="4.8" fill="#D95319"/><rect x="842.4" y="430.8" width="2.9" height="4.8" fill="#D95319"/><rect x="842.4" y="421.9" width="2.9" height="4.8" fill="#D95319"/><rect x="842.4" y="414.3" width="2.9" height="4.8" fill="#D95319"/><rect x="842.4" y="407.7" width="2.9" height="4.8" fill="#D95319"/><rect x="842.4" y="401.9" width="2.9" height="4.8" fill="#D95319"/><rect x="840.5" y="396.7" width="4.8" height="4.8" fill="#D95319"/>
<rect x="844.3" y="363.2" width="5.4" height="377.5" fill="#D95319"/>
<text transform="translate(545.25,413.70) scale(0.9969,1)" font-size="44.48" fill="#000"  stroke="#000" stroke-width="0.55" stroke-linejoin="round">(c)</text>
<text transform="translate(449.88,756.30) scale(0.958,1)" font-size="40.28" fill="#0072BD" stroke="#0072BD" stroke-width="0.7" stroke-linejoin="round">10</text>
<text transform="translate(493.00,737.10) scale(0.958,1)" font-size="32.14" fill="#0072BD" stroke="#0072BD" stroke-width="0.7" stroke-linejoin="round">0</text>
<text transform="translate(449.88,649.10) scale(0.958,1)" font-size="40.28" fill="#0072BD" stroke="#0072BD" stroke-width="0.7" stroke-linejoin="round">10</text>
<text transform="translate(493.00,629.90) scale(0.958,1)" font-size="32.14" fill="#0072BD" stroke="#0072BD" stroke-width="0.7" stroke-linejoin="round">1</text>
<text transform="translate(449.88,542.00) scale(0.958,1)" font-size="40.28" fill="#0072BD" stroke="#0072BD" stroke-width="0.7" stroke-linejoin="round">10</text>
<text transform="translate(493.00,522.80) scale(0.958,1)" font-size="32.14" fill="#0072BD" stroke="#0072BD" stroke-width="0.7" stroke-linejoin="round">2</text>
<text transform="translate(449.88,434.80) scale(0.958,1)" font-size="40.28" fill="#0072BD" stroke="#0072BD" stroke-width="0.7" stroke-linejoin="round">10</text>
<text transform="translate(493.00,415.60) scale(0.958,1)" font-size="32.14" fill="#0072BD" stroke="#0072BD" stroke-width="0.7" stroke-linejoin="round">3</text>
<text transform="translate(430.60,682.96) rotate(-90) scale(0.9510,1)" font-size="43.02" fill="#0072BD"  stroke="#0072BD" stroke-width="0.7" stroke-linejoin="round">DC Gain (A/A)</text>
<text transform="translate(860.81,756.50) scale(0.958,1)" font-size="42.79" fill="#D95319" stroke="#D95319" stroke-width="0.7" stroke-linejoin="round">10</text>
<text transform="translate(906.85,737.40) scale(0.958,1)" font-size="34.02" fill="#D95319" stroke="#D95319" stroke-width="0.7" stroke-linejoin="round">-8</text>
<text transform="translate(860.81,644.20) scale(0.958,1)" font-size="42.79" fill="#D95319" stroke="#D95319" stroke-width="0.7" stroke-linejoin="round">10</text>
<text transform="translate(906.85,625.10) scale(0.958,1)" font-size="34.02" fill="#D95319" stroke="#D95319" stroke-width="0.7" stroke-linejoin="round">-7</text>
<text transform="translate(860.81,531.60) scale(0.958,1)" font-size="42.79" fill="#D95319" stroke="#D95319" stroke-width="0.7" stroke-linejoin="round">10</text>
<text transform="translate(906.85,512.50) scale(0.958,1)" font-size="34.02" fill="#D95319" stroke="#D95319" stroke-width="0.7" stroke-linejoin="round">-6</text>
<text transform="translate(860.81,418.30) scale(0.958,1)" font-size="42.79" fill="#D95319" stroke="#D95319" stroke-width="0.7" stroke-linejoin="round">10</text>
<text transform="translate(906.85,399.20) scale(0.958,1)" font-size="34.02" fill="#D95319" stroke="#D95319" stroke-width="0.7" stroke-linejoin="round">-5</text>
<text transform="translate(981.80,690.26) rotate(-90) scale(1.0080,1)" font-size="46.22" fill="#D95319"  stroke="#D95319" stroke-width="0.7" stroke-linejoin="round">dI</text>
<text transform="translate(1003.20,650.71) rotate(-90) scale(0.8734,1)" font-size="36.34" fill="#D95319"  stroke="#D95319" stroke-width="0.7" stroke-linejoin="round">C</text>
<text transform="translate(981.80,625.40) rotate(-90) scale(0.9252,1)" font-size="46.22" fill="#D95319"  stroke="#D95319" stroke-width="0.7" stroke-linejoin="round">/dV</text>
<text transform="translate(1003.20,557.76) rotate(-90) scale(0.9063,1)" font-size="36.34" fill="#D95319"  stroke="#D95319" stroke-width="0.7" stroke-linejoin="round">G</text>
<text transform="translate(981.80,517.70) rotate(-90) scale(0.9433,1)" font-size="46.22" fill="#D95319"  stroke="#D95319" stroke-width="0.7" stroke-linejoin="round">(A/V)</text>
<text transform="translate(492.23,796.00) scale(0.958,1)" font-size="39.66" fill="#262626" stroke="#262626" stroke-width="0.7" stroke-linejoin="round">10</text>
<text transform="translate(537.25,776.60) scale(0.958,1)" font-size="31.73" fill="#262626" stroke="#262626" stroke-width="0.7" stroke-linejoin="round">-1</text>
<text transform="translate(564.73,796.00) scale(0.958,1)" font-size="39.66" fill="#262626" stroke="#262626" stroke-width="0.7" stroke-linejoin="round">10</text>
<text transform="translate(608.30,776.60) scale(0.958,1)" font-size="31.73" fill="#262626" stroke="#262626" stroke-width="0.7" stroke-linejoin="round">0</text>
<text transform="translate(633.23,796.00) scale(0.958,1)" font-size="39.66" fill="#262626" stroke="#262626" stroke-width="0.7" stroke-linejoin="round">10</text>
<text transform="translate(677.70,776.60) scale(0.958,1)" font-size="31.73" fill="#262626" stroke="#262626" stroke-width="0.7" stroke-linejoin="round">1</text>
<text transform="translate(702.23,796.00) scale(0.958,1)" font-size="39.66" fill="#262626" stroke="#262626" stroke-width="0.7" stroke-linejoin="round">10</text>
<text transform="translate(745.00,776.60) scale(0.958,1)" font-size="31.73" fill="#262626" stroke="#262626" stroke-width="0.7" stroke-linejoin="round">2</text>
<text transform="translate(769.93,796.00) scale(0.958,1)" font-size="39.66" fill="#262626" stroke="#262626" stroke-width="0.7" stroke-linejoin="round">10</text>
<text transform="translate(814.20,776.60) scale(0.958,1)" font-size="31.73" fill="#262626" stroke="#262626" stroke-width="0.7" stroke-linejoin="round">3</text>
<text transform="translate(576.90,841.00) scale(1.0193,1)" font-size="40.70" fill="#262626"  stroke="#262626" stroke-width="0.7" stroke-linejoin="round">Power (nW)</text>
<!-- chart d -->
<path d="M168.2,1020.0 C169.6,1021.1 173.4,1023.3 176.4,1026.6 C179.4,1029.8 183.0,1035.6 186.3,1039.7 C189.6,1043.8 192.3,1048.3 196.2,1051.2 C200.0,1054.1 204.9,1056.5 209.3,1057.1 C213.7,1057.8 218.1,1056.1 222.5,1055.2 C226.8,1054.2 230.7,1053.2 235.6,1051.2 C240.5,1049.2 246.0,1046.3 252.0,1043.0 C258.1,1039.7 265.7,1034.8 271.8,1031.5 C277.8,1028.2 283.3,1026.3 288.2,1023.3 C293.1,1020.3 297.5,1017.5 301.4,1013.4 C305.2,1009.3 307.9,1003.8 311.2,998.6 C314.5,993.4 317.8,988.2 321.1,982.2 C324.4,976.2 327.7,968.5 330.9,962.5 C334.2,956.4 337.5,950.4 340.8,946.0 C344.1,941.6 347.9,937.8 350.7,936.2 C353.4,934.5 354.9,934.5 357.2,936.2 C359.5,937.8 362.1,939.4 364.5,946.0 C366.8,952.6 369.6,966.8 371.4,975.6 C373.2,984.4 373.9,991.9 375.3,998.6 C376.7,1005.3 377.7,1010.7 379.6,1015.7 C381.5,1020.8 384.2,1025.8 386.8,1028.9 C389.4,1031.9 391.8,1032.9 395.0,1034.1 C398.3,1035.4 402.4,1035.9 406.5,1036.4 C410.7,1037.0 415.3,1037.6 419.7,1037.4 C424.1,1037.2 428.5,1036.7 432.8,1035.4 C437.2,1034.2 442.2,1031.3 446.0,1029.8 C449.8,1028.4 452.6,1027.9 455.9,1026.6 C459.1,1025.2 463.0,1023.5 465.7,1021.6 C468.5,1019.7 470.4,1017.2 472.3,1015.1 C474.2,1012.9 476.4,1009.6 477.2,1008.5" fill="none" stroke="#0072BD" stroke-width="8.2" stroke-linecap="round" stroke-linejoin="round"/>
<path d="M168.2,1034.8 C169.3,1038.1 172.9,1047.9 174.8,1054.5 C176.7,1061.1 177.3,1068.7 179.7,1074.2 C182.2,1079.7 185.8,1084.0 189.6,1087.4 C193.4,1090.8 198.4,1093.4 202.7,1094.6 C207.1,1095.8 211.5,1095.0 215.9,1094.6 C220.3,1094.2 224.1,1094.1 229.0,1092.3 C234.0,1090.6 240.0,1087.9 245.5,1084.1 C250.9,1080.3 256.4,1075.3 261.9,1069.3 C267.4,1063.3 272.9,1056.4 278.3,1047.9 C283.8,1039.4 289.3,1028.5 294.8,1018.3 C300.3,1008.2 305.7,997.0 311.2,987.1 C316.7,977.3 322.7,966.6 327.7,959.2 C332.6,951.8 337.0,946.8 340.8,942.7 C344.6,938.6 347.9,936.2 350.7,934.5 C353.4,932.9 355.0,931.8 357.2,932.9 C359.4,934.0 361.1,933.4 363.8,941.1 C366.6,948.8 370.4,966.0 373.7,978.9 C377.0,991.8 380.5,1006.3 383.5,1018.3 C386.6,1030.4 389.0,1043.8 391.8,1051.2 C394.5,1058.6 397.0,1059.7 400.0,1062.7 C403.0,1065.7 406.3,1067.8 409.8,1069.3 C413.4,1070.8 417.5,1071.6 421.3,1071.6 C425.2,1071.6 428.7,1071.6 432.8,1069.3 C437.0,1067.0 441.6,1063.5 446.0,1057.8 C450.4,1052.0 455.3,1041.9 459.1,1034.8 C463.0,1027.7 466.0,1021.1 469.0,1015.1 C472.0,1009.0 475.9,1001.4 477.2,998.6" fill="none" stroke="#D95319" stroke-width="8.2" stroke-linecap="round" stroke-linejoin="round"/>
<path d="M168.2,1067.7 C169.6,1069.6 173.4,1076.1 176.4,1079.2 C179.4,1082.2 182.5,1083.9 186.3,1085.7 C190.1,1087.5 195.1,1089.3 199.4,1090.0 C203.8,1090.7 208.2,1090.4 212.6,1090.0 C217.0,1089.6 220.8,1089.2 225.7,1087.4 C230.7,1085.6 236.7,1083.0 242.2,1079.2 C247.7,1075.3 253.1,1070.4 258.6,1064.4 C264.1,1058.3 269.6,1051.2 275.1,1043.0 C280.5,1034.8 286.0,1024.9 291.5,1015.1 C297.0,1005.2 302.5,993.4 307.9,983.8 C313.4,974.2 319.4,964.7 324.4,957.5 C329.3,950.4 333.7,944.9 337.5,941.1 C341.3,937.3 344.4,934.2 347.4,934.5 C350.4,934.8 352.9,938.4 355.6,942.7 C358.3,947.1 360.8,953.7 363.8,960.8 C366.8,967.9 370.4,976.4 373.7,985.5 C377.0,994.5 380.8,1006.8 383.5,1015.1 C386.3,1023.3 387.4,1029.0 390.1,1034.8 C392.9,1040.5 396.7,1045.7 400.0,1049.6 C403.3,1053.4 406.3,1056.0 409.8,1057.8 C413.4,1059.5 417.5,1060.2 421.3,1060.1 C425.2,1060.0 428.7,1059.7 432.8,1057.1 C437.0,1054.6 441.6,1050.0 446.0,1044.6 C450.4,1039.3 455.3,1031.5 459.1,1024.9 C463.0,1018.3 466.0,1011.2 469.0,1005.2 C472.0,999.2 475.9,991.5 477.2,988.8" fill="none" stroke="#EDB120" stroke-width="8.2" stroke-linecap="round" stroke-linejoin="round"/>
<path d="M168.2,1061.1 C169.6,1062.2 173.4,1065.7 176.4,1067.7 C179.4,1069.6 182.5,1071.5 186.3,1072.6 C190.1,1073.7 195.1,1074.4 199.4,1074.2 C203.8,1074.1 208.2,1073.0 212.6,1071.6 C217.0,1070.2 220.8,1068.9 225.7,1066.0 C230.7,1063.2 236.7,1058.9 242.2,1054.5 C247.7,1050.1 253.1,1045.2 258.6,1039.7 C264.1,1034.2 269.6,1028.5 275.1,1021.6 C280.5,1014.8 286.0,1006.8 291.5,998.6 C297.0,990.4 302.5,980.3 307.9,972.3 C313.4,964.4 319.4,956.4 324.4,951.0 C329.3,945.5 333.7,941.8 337.5,939.4 C341.3,937.1 344.1,936.0 347.4,936.8 C350.7,937.6 354.0,940.7 357.2,944.4 C360.5,948.1 363.8,953.1 367.1,959.2 C370.4,965.2 373.7,973.4 377.0,980.5 C380.2,987.7 383.5,995.6 386.8,1001.9 C390.1,1008.2 393.4,1014.1 396.7,1018.3 C400.0,1022.6 403.0,1025.5 406.5,1027.5 C410.1,1029.6 414.2,1030.7 418.1,1030.8 C421.9,1030.9 425.5,1030.6 429.6,1028.2 C433.7,1025.8 438.3,1021.4 442.7,1016.7 C447.1,1012.0 451.5,1006.3 455.9,1000.3 C460.2,994.2 465.4,985.7 469.0,980.5 C472.6,975.3 475.9,971.0 477.2,969.0" fill="none" stroke="#7E2F8E" stroke-width="8.2" stroke-linecap="round" stroke-linejoin="round"/>
<path d="M168.2,1046.3 C170.1,1046.7 175.6,1048.6 179.7,1048.6 C183.8,1048.6 187.9,1048.0 192.9,1046.3 C197.8,1044.5 203.8,1041.1 209.3,1038.1 C214.8,1035.1 220.3,1031.8 225.7,1028.2 C231.2,1024.6 236.7,1020.8 242.2,1016.7 C247.7,1012.6 253.1,1008.2 258.6,1003.6 C264.1,998.9 269.6,994.0 275.1,988.8 C280.5,983.6 286.0,977.8 291.5,972.3 C297.0,966.8 302.5,960.8 307.9,955.9 C313.4,951.0 319.4,945.9 324.4,942.7 C329.3,939.6 333.1,937.8 337.5,936.8 C341.9,935.8 346.8,935.8 350.7,936.8 C354.5,937.8 357.2,939.8 360.5,942.7 C363.8,945.6 367.1,949.9 370.4,954.2 C373.7,958.6 377.0,964.1 380.2,969.0 C383.5,974.0 386.8,979.7 390.1,983.8 C393.4,987.9 396.4,991.3 400.0,993.7 C403.5,996.0 407.6,997.7 411.5,998.0 C415.3,998.2 418.9,997.4 423.0,995.3 C427.1,993.3 431.8,989.6 436.1,985.5 C440.5,981.4 444.9,976.2 449.3,970.7 C453.7,965.2 457.8,958.6 462.4,952.6 C467.1,946.6 474.8,937.5 477.2,934.5" fill="none" stroke="#77AC30" stroke-width="8.2" stroke-linecap="round" stroke-linejoin="round"/>
<rect x="171.8" y="1233.6" width="4.4" height="5" fill="#262626"/><rect x="472.2" y="1233.6" width="4.4" height="5" fill="#262626"/><rect x="171.8" y="1195.9" width="3.0" height="5" fill="#262626"/><rect x="473.6" y="1195.9" width="3.0" height="5" fill="#262626"/><rect x="171.8" y="1158.2" width="3.0" height="5" fill="#262626"/><rect x="473.6" y="1158.2" width="3.0" height="5" fill="#262626"/><rect x="171.8" y="1120.4" width="3.0" height="5" fill="#262626"/><rect x="473.6" y="1120.4" width="3.0" height="5" fill="#262626"/><rect x="171.8" y="1082.7" width="4.4" height="5" fill="#262626"/><rect x="472.2" y="1082.7" width="4.4" height="5" fill="#262626"/><rect x="171.8" y="1045.0" width="3.0" height="5" fill="#262626"/><rect x="473.6" y="1045.0" width="3.0" height="5" fill="#262626"/><rect x="171.8" y="1007.3" width="3.0" height="5" fill="#262626"/><rect x="473.6" y="1007.3" width="3.0" height="5" fill="#262626"/><rect x="171.8" y="969.6" width="3.0" height="5" fill="#262626"/><rect x="473.6" y="969.6" width="3.0" height="5" fill="#262626"/><rect x="171.8" y="931.8" width="4.4" height="5" fill="#262626"/><rect x="472.2" y="931.8" width="4.4" height="5" fill="#262626"/><rect x="189.3" y="1229.9" width="5.2" height="4.4" fill="#262626"/><rect x="189.3" y="907.2" width="5.2" height="4.4" fill="#262626"/><rect x="298.8" y="1229.9" width="5.2" height="4.4" fill="#262626"/><rect x="298.8" y="907.2" width="5.2" height="4.4" fill="#262626"/><rect x="408.2" y="1229.9" width="5.2" height="4.4" fill="#262626"/><rect x="408.2" y="907.2" width="5.2" height="4.4" fill="#262626"/>
<rect x="170.1" y="905.5" width="308.20000000000005" height="330.5999999999999" fill="none" stroke="#262626" stroke-width="5.5"/>
<text transform="translate(189.27,956.60) scale(0.9889,1)" font-size="44.48" fill="#000"  stroke="#000" stroke-width="0.55" stroke-linejoin="round">(d)</text>
<text transform="translate(134.40,945.00) scale(0.958,1)" font-size="39.66" fill="#262626" stroke="#262626" stroke-width="0.7" stroke-linejoin="round">1</text>
<text transform="translate(102.98,1096.10) scale(0.958,1)" font-size="39.66" fill="#262626" stroke="#262626" stroke-width="0.7" stroke-linejoin="round">0.5</text>
<text transform="translate(135.36,1247.30) scale(0.958,1)" font-size="39.66" fill="#262626" stroke="#262626" stroke-width="0.7" stroke-linejoin="round">0</text>
<text transform="translate(65.90,1145.05) rotate(-90) scale(1.1215,1)" font-size="43.02" fill="#262626"  stroke="#262626" stroke-width="0.7" stroke-linejoin="round">I</text>
<text transform="translate(85.50,1130.38) rotate(-90) scale(0.9585,1)" font-size="34.59" fill="#262626"  stroke="#262626" stroke-width="0.7" stroke-linejoin="round">C</text>
<text transform="translate(65.90,1092.27) rotate(-90) scale(0.9393,1)" font-size="43.02" fill="#262626"  stroke="#262626" stroke-width="0.7" stroke-linejoin="round">(a.u.)</text>
<text transform="translate(148.66,1281.00) scale(0.958,1)" font-size="39.66" fill="#262626" stroke="#262626" stroke-width="0.7" stroke-linejoin="round">-5.05</text>
<text transform="translate(284.46,1281.00) scale(0.958,1)" font-size="39.66" fill="#262626" stroke="#262626" stroke-width="0.7" stroke-linejoin="round">-5</text>
<text transform="translate(368.16,1281.00) scale(0.958,1)" font-size="39.66" fill="#262626" stroke="#262626" stroke-width="0.7" stroke-linejoin="round">-4.95</text>
<text transform="translate(170.14,1326.80) scale(0.9798,1)" font-size="41.86" fill="#262626"  stroke="#262626" stroke-width="0.7" stroke-linejoin="round">Gate Voltage (V)</text>
<!-- legend -->
<rect x="211.2" y="730.5" width="227.4" height="166.3" fill="#fff" stroke="#262626" stroke-width="5.5"/>
<circle cx="268.6" cy="750.6" r="4.7" fill="#0072BD"/>
<circle cx="268.6" cy="782.2" r="4.7" fill="#D95319"/>
<circle cx="268.6" cy="813.5" r="4.7" fill="#EDB120"/>
<circle cx="268.6" cy="845.1" r="4.7" fill="#7E2F8E"/>
<circle cx="268.6" cy="876.4" r="4.7" fill="#77AC30"/>
<text transform="translate(317.57,757.60) scale(0.9854,1)" font-size="27.91" fill="#000"  stroke="#000" stroke-width="0.7" stroke-linejoin="round">48</text>
<text transform="translate(317.01,789.00) scale(0.9854,1)" font-size="27.91" fill="#000"  stroke="#000" stroke-width="0.7" stroke-linejoin="round">124</text>
<text transform="translate(317.15,820.60) scale(0.9854,1)" font-size="27.91" fill="#000"  stroke="#000" stroke-width="0.7" stroke-linejoin="round">329</text>
<text transform="translate(317.00,852.10) scale(0.9854,1)" font-size="27.91" fill="#000"  stroke="#000" stroke-width="0.7" stroke-linejoin="round">839</text>
<text transform="translate(317.01,883.60) scale(0.9854,1)" font-size="27.91" fill="#000"  stroke="#000" stroke-width="0.7" stroke-linejoin="round">1.9</text>
<text transform="translate(386.08,757.60) scale(0.9796,1)" font-size="27.91" fill="#000"  stroke="#000" stroke-width="0.7" stroke-linejoin="round">nW</text>
<text transform="translate(386.08,789.00) scale(0.9796,1)" font-size="27.91" fill="#000"  stroke="#000" stroke-width="0.7" stroke-linejoin="round">nW</text>
<text transform="translate(386.08,820.60) scale(0.9796,1)" font-size="27.91" fill="#000"  stroke="#000" stroke-width="0.7" stroke-linejoin="round">nW</text>
<text transform="translate(386.08,852.10) scale(0.9796,1)" font-size="27.91" fill="#000"  stroke="#000" stroke-width="0.7" stroke-linejoin="round">nW</text>
<text transform="translate(381.24,883.60) scale(1.0812,1)" font-size="27.91" fill="#000"  stroke="#000" stroke-width="0.7" stroke-linejoin="round">µW</text>
<!-- chart e -->
<path d="M664.6,1071 H1000.1" stroke="#7E2F8E" stroke-width="2.8" fill="none"/>
<g fill="#0072BD"><circle cx="667.2" cy="1071" r="7.9"/><circle cx="708.2" cy="1071" r="7.9"/><circle cx="738.4" cy="1062.7" r="7.9"/><circle cx="771.4" cy="1062.7" r="7.9"/><circle cx="812.5" cy="1046" r="7.9"/><circle cx="850.7" cy="1030" r="7.9"/><circle cx="883.4" cy="1018.9" r="7.9"/><circle cx="914" cy="1010.5" r="7.9"/><circle cx="943.5" cy="996.3" r="7.9"/><circle cx="971.3" cy="983.3" r="7.9"/><circle cx="992.9" cy="980.5" r="7.9"/></g>
<path d="M667.2,1147.5 L708.2,1122.5 L739.5,1117.9 L773.2,1078 L812.5,1054.7 L850.7,1040.8 L883.4,1030.3 L914,1011.2 L943.5,999.1 L971.3,992.1 L997,984.5" stroke="#D95319" stroke-width="2.8" fill="none" stroke-linejoin="round"/>
<path d="M667.2,1170.4 L997,1092.5" stroke="#EDB120" stroke-width="2.8" fill="none"/>
<path d="M664.6,1071 H1000.1" stroke="#7E2F8E" stroke-width="2.8" fill="none"/>
<rect x="666.3" y="1233.7" width="4.4" height="4.4" fill="#262626"/><rect x="994.0" y="1233.7" width="4.4" height="4.4" fill="#262626"/><rect x="666.3" y="1208.8" width="2.9" height="4.4" fill="#262626"/><rect x="995.5" y="1208.8" width="2.9" height="4.4" fill="#262626"/><rect x="666.3" y="1194.3" width="2.9" height="4.4" fill="#262626"/><rect x="995.5" y="1194.3" width="2.9" height="4.4" fill="#262626"/><rect x="666.3" y="1184.0" width="2.9" height="4.4" fill="#262626"/><rect x="995.5" y="1184.0" width="2.9" height="4.4" fill="#262626"/><rect x="666.3" y="1176.0" width="2.9" height="4.4" fill="#262626"/><rect x="995.5" y="1176.0" width="2.9" height="4.4" fill="#262626"/><rect x="666.3" y="1169.5" width="2.9" height="4.4" fill="#262626"/><rect x="995.5" y="1169.5" width="2.9" height="4.4" fill="#262626"/><rect x="666.3" y="1163.9" width="2.9" height="4.4" fill="#262626"/><rect x="995.5" y="1163.9" width="2.9" height="4.4" fill="#262626"/><rect x="666.3" y="1159.1" width="2.9" height="4.4" fill="#262626"/><rect x="995.5" y="1159.1" width="2.9" height="4.4" fill="#262626"/><rect x="666.3" y="1154.9" width="2.9" height="4.4" fill="#262626"/><rect x="995.5" y="1154.9" width="2.9" height="4.4" fill="#262626"/><rect x="666.3" y="1151.2" width="4.4" height="4.4" fill="#262626"/><rect x="994.0" y="1151.2" width="4.4" height="4.4" fill="#262626"/><rect x="666.3" y="1126.3" width="2.9" height="4.4" fill="#262626"/><rect x="995.5" y="1126.3" width="2.9" height="4.4" fill="#262626"/><rect x="666.3" y="1111.8" width="2.9" height="4.4" fill="#262626"/><rect x="995.5" y="1111.8" width="2.9" height="4.4" fill="#262626"/><rect x="666.3" y="1101.4" width="2.9" height="4.4" fill="#262626"/><rect x="995.5" y="1101.4" width="2.9" height="4.4" fill="#262626"/><rect x="666.3" y="1093.5" width="2.9" height="4.4" fill="#262626"/><rect x="995.5" y="1093.5" width="2.9" height="4.4" fill="#262626"/><rect x="666.3" y="1086.9" width="2.9" height="4.4" fill="#262626"/><rect x="995.5" y="1086.9" width="2.9" height="4.4" fill="#262626"/><rect x="666.3" y="1081.4" width="2.9" height="4.4" fill="#262626"/><rect x="995.5" y="1081.4" width="2.9" height="4.4" fill="#262626"/><rect x="666.3" y="1076.6" width="2.9" height="4.4" fill="#262626"/><rect x="995.5" y="1076.6" width="2.9" height="4.4" fill="#262626"/><rect x="666.3" y="1072.4" width="2.9" height="4.4" fill="#262626"/><rect x="995.5" y="1072.4" width="2.9" height="4.4" fill="#262626"/><rect x="666.3" y="1068.6" width="4.4" height="4.4" fill="#262626"/><rect x="994.0" y="1068.6" width="4.4" height="4.4" fill="#262626"/><rect x="666.3" y="1043.7" width="2.9" height="4.4" fill="#262626"/><rect x="995.5" y="1043.7" width="2.9" height="4.4" fill="#262626"/><rect x="666.3" y="1029.2" width="2.9" height="4.4" fill="#262626"/><rect x="995.5" y="1029.2" width="2.9" height="4.4" fill="#262626"/><rect x="666.3" y="1018.9" width="2.9" height="4.4" fill="#262626"/><rect x="995.5" y="1018.9" width="2.9" height="4.4" fill="#262626"/><rect x="666.3" y="1010.9" width="2.9" height="4.4" fill="#262626"/><rect x="995.5" y="1010.9" width="2.9" height="4.4" fill="#262626"/><rect x="666.3" y="1004.4" width="2.9" height="4.4" fill="#262626"/><rect x="995.5" y="1004.4" width="2.9" height="4.4" fill="#262626"/><rect x="666.3" y="998.8" width="2.9" height="4.4" fill="#262626"/><rect x="995.5" y="998.8" width="2.9" height="4.4" fill="#262626"/><rect x="666.3" y="994.0" width="2.9" height="4.4" fill="#262626"/><rect x="995.5" y="994.0" width="2.9" height="4.4" fill="#262626"/><rect x="666.3" y="989.8" width="2.9" height="4.4" fill="#262626"/><rect x="995.5" y="989.8" width="2.9" height="4.4" fill="#262626"/><rect x="666.3" y="986.1" width="4.4" height="4.4" fill="#262626"/><rect x="994.0" y="986.1" width="4.4" height="4.4" fill="#262626"/><rect x="666.3" y="961.2" width="2.9" height="4.4" fill="#262626"/><rect x="995.5" y="961.2" width="2.9" height="4.4" fill="#262626"/><rect x="666.3" y="946.7" width="2.9" height="4.4" fill="#262626"/><rect x="995.5" y="946.7" width="2.9" height="4.4" fill="#262626"/><rect x="666.3" y="936.3" width="2.9" height="4.4" fill="#262626"/><rect x="995.5" y="936.3" width="2.9" height="4.4" fill="#262626"/><rect x="666.3" y="928.4" width="2.9" height="4.4" fill="#262626"/><rect x="995.5" y="928.4" width="2.9" height="4.4" fill="#262626"/><rect x="666.3" y="921.8" width="2.9" height="4.4" fill="#262626"/><rect x="995.5" y="921.8" width="2.9" height="4.4" fill="#262626"/><rect x="666.3" y="916.3" width="2.9" height="4.4" fill="#262626"/><rect x="995.5" y="916.3" width="2.9" height="4.4" fill="#262626"/><rect x="666.3" y="911.5" width="2.9" height="4.4" fill="#262626"/><rect x="995.5" y="911.5" width="2.9" height="4.4" fill="#262626"/><rect x="666.3" y="907.3" width="2.9" height="4.4" fill="#262626"/><rect x="995.5" y="907.3" width="2.9" height="4.4" fill="#262626"/><rect x="667.2" y="1231.3" width="4.4" height="2.9" fill="#262626"/><rect x="667.2" y="907.4" width="4.4" height="2.9" fill="#262626"/><rect x="681.1" y="1231.3" width="4.4" height="2.9" fill="#262626"/><rect x="681.1" y="907.4" width="4.4" height="2.9" fill="#262626"/><rect x="692.9" y="1231.3" width="4.4" height="2.9" fill="#262626"/><rect x="692.9" y="907.4" width="4.4" height="2.9" fill="#262626"/><rect x="703.1" y="1231.3" width="4.4" height="2.9" fill="#262626"/><rect x="703.1" y="907.4" width="4.4" height="2.9" fill="#262626"/><rect x="712.1" y="1231.3" width="4.4" height="2.9" fill="#262626"/><rect x="712.1" y="907.4" width="4.4" height="2.9" fill="#262626"/><rect x="720.1" y="1229.8" width="4.4" height="4.4" fill="#262626"/><rect x="720.1" y="907.4" width="4.4" height="4.4" fill="#262626"/><rect x="773.0" y="1231.3" width="4.4" height="2.9" fill="#262626"/><rect x="773.0" y="907.4" width="4.4" height="2.9" fill="#262626"/><rect x="803.9" y="1231.3" width="4.4" height="2.9" fill="#262626"/><rect x="803.9" y="907.4" width="4.4" height="2.9" fill="#262626"/><rect x="825.8" y="1231.3" width="4.4" height="2.9" fill="#262626"/><rect x="825.8" y="907.4" width="4.4" height="2.9" fill="#262626"/><rect x="842.8" y="1231.3" width="4.4" height="2.9" fill="#262626"/><rect x="842.8" y="907.4" width="4.4" height="2.9" fill="#262626"/><rect x="856.7" y="1231.3" width="4.4" height="2.9" fill="#262626"/><rect x="856.7" y="907.4" width="4.4" height="2.9" fill="#262626"/><rect x="868.5" y="1231.3" width="4.4" height="2.9" fill="#262626"/><rect x="868.5" y="907.4" width="4.4" height="2.9" fill="#262626"/><rect x="878.7" y="1231.3" width="4.4" height="2.9" fill="#262626"/><rect x="878.7" y="907.4" width="4.4" height="2.9" fill="#262626"/><rect x="887.7" y="1231.3" width="4.4" height="2.9" fill="#262626"/><rect x="887.7" y="907.4" width="4.4" height="2.9" fill="#262626"/><rect x="895.7" y="1229.8" width="4.4" height="4.4" fill="#262626"/><rect x="895.7" y="907.4" width="4.4" height="4.4" fill="#262626"/><rect x="948.6" y="1231.3" width="4.4" height="2.9" fill="#262626"/><rect x="948.6" y="907.4" width="4.4" height="2.9" fill="#262626"/><rect x="979.5" y="1231.3" width="4.4" height="2.9" fill="#262626"/><rect x="979.5" y="907.4" width="4.4" height="2.9" fill="#262626"/>
<rect x="664.6" y="905.7" width="335.5" height="330.20000000000005" fill="none" stroke="#262626" stroke-width="5.4"/>
<rect x="660.6" y="903.0" width="6.9" height="335.6" fill="#262626"/>
<text transform="translate(684.18,956.60) scale(0.9848,1)" font-size="44.48" fill="#000"  stroke="#000" stroke-width="0.55" stroke-linejoin="round">(e)</text>
<text transform="translate(573.10,915.50) scale(0.958,1)" font-size="39.66" fill="#262626" stroke="#262626" stroke-width="0.7" stroke-linejoin="round">100</text>
<text transform="translate(585.03,998.50) scale(0.958,1)" font-size="39.66" fill="#262626" stroke="#262626" stroke-width="0.7" stroke-linejoin="round">10</text>
<text transform="translate(594.60,1080.80) scale(0.958,1)" font-size="39.66" fill="#262626" stroke="#262626" stroke-width="0.7" stroke-linejoin="round">1</text>
<text transform="translate(586.04,1163.60) scale(0.958,1)" font-size="39.66" fill="#262626" stroke="#262626" stroke-width="0.7" stroke-linejoin="round">0.1</text>
<text transform="translate(574.21,1246.40) scale(0.958,1)" font-size="39.66" fill="#262626" stroke="#262626" stroke-width="0.7" stroke-linejoin="round">0.01</text>
<text transform="translate(553.70,1213.15) rotate(-90) scale(0.9739,1)" font-size="43.17" fill="#262626"  stroke="#262626" stroke-width="0.7" stroke-linejoin="round">Noise (pA/√Hz)</text>
<text transform="translate(690.73,1294.70) scale(0.958,1)" font-size="39.66" fill="#262626" stroke="#262626" stroke-width="0.7" stroke-linejoin="round">10</text>
<text transform="translate(734.17,1275.70) scale(0.958,1)" font-size="31.73" fill="#262626" stroke="#262626" stroke-width="0.7" stroke-linejoin="round">2</text>
<text transform="translate(863.53,1294.70) scale(0.958,1)" font-size="39.66" fill="#262626" stroke="#262626" stroke-width="0.7" stroke-linejoin="round">10</text>
<text transform="translate(906.44,1275.70) scale(0.958,1)" font-size="31.73" fill="#262626" stroke="#262626" stroke-width="0.7" stroke-linejoin="round">3</text>
<text transform="translate(721.90,1340.40) scale(1.0193,1)" font-size="40.70" fill="#262626"  stroke="#262626" stroke-width="0.7" stroke-linejoin="round">Power (nW)</text>
</svg></body></html>
